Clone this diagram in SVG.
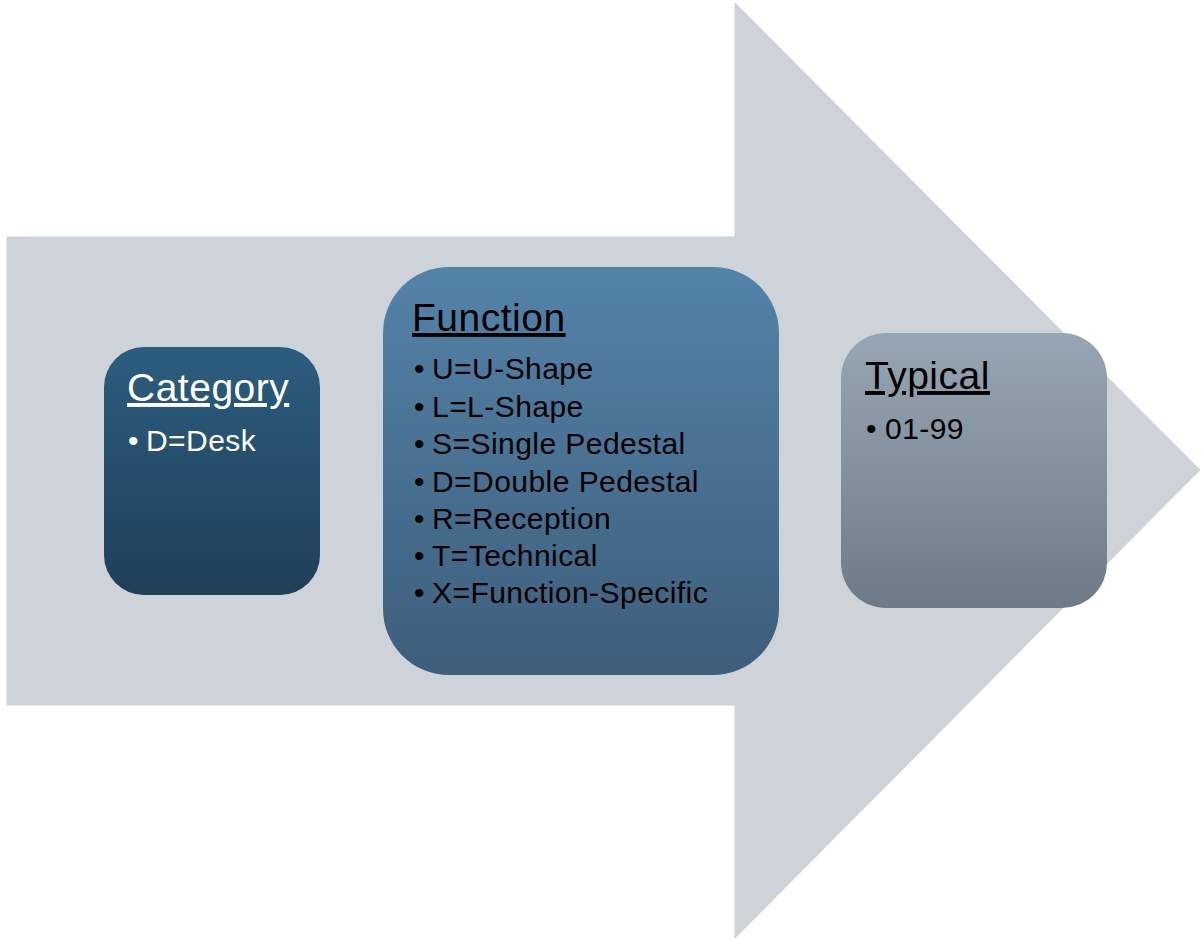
<svg xmlns="http://www.w3.org/2000/svg" width="1201" height="939" viewBox="0 0 1201 939">
  <style>
    .title { font-family: "Liberation Sans", Arial, sans-serif; font-size: 39px; letter-spacing: 0.5px; text-decoration: underline; }
    .item { font-family: "Liberation Sans", Arial, sans-serif; font-size: 30px; letter-spacing: 0.45px; }
    .light { fill: #ffffff; }
    .dark { fill: #000000; }
  </style>
  <defs>
    <linearGradient id="gradCategory" x1="0" y1="0" x2="0" y2="1">
      <stop offset="0" stop-color="#2c5d7f"/>
      <stop offset="1" stop-color="#203f59"/>
    </linearGradient>
    <linearGradient id="gradFunction" x1="0" y1="0" x2="0" y2="1">
      <stop offset="0" stop-color="#5383a8"/>
      <stop offset="1" stop-color="#3e5e7b"/>
    </linearGradient>
    <linearGradient id="gradTypical" x1="0" y1="0" x2="0" y2="1">
      <stop offset="0" stop-color="#97a6b4"/>
      <stop offset="1" stop-color="#6f7a87"/>
    </linearGradient>
  </defs>

  <rect width="1201" height="939" fill="#ffffff"/>

  <!-- background block arrow -->
  <g id="arrow">
    <polygon points="7,237 735,237 735,3 1200,470 735,938 735,705 7,705" fill="#cdd3d8" stroke="#cdd3d8" stroke-width="1" stroke-linejoin="round"/>
  </g>

  <g id="connectors"></g>

  <g id="category">
    <rect x="104" y="347" width="216" height="248" rx="40" ry="40" fill="url(#gradCategory)"/>
    <text class="title light" x="127" y="401">Category</text>
    <text class="item light" x="128" y="451">•</text>
    <text class="item light" x="146" y="451">D=Desk</text>
  </g>

  <g id="function">
    <rect x="383" y="267" width="396" height="408" rx="66" ry="66" fill="url(#gradFunction)"/>
    <text class="title dark" x="412" y="331">Function</text>
    <g class="item dark">
      <text x="414" y="379">•</text><text x="432" y="379">U=U-Shape</text>
      <text x="414" y="416.5">•</text><text x="432" y="416.5">L=L-Shape</text>
      <text x="414" y="454">•</text><text x="432" y="454">S=Single Pedestal</text>
      <text x="414" y="491.5">•</text><text x="432" y="491.5">D=Double Pedestal</text>
      <text x="414" y="529">•</text><text x="432" y="529">R=Reception</text>
      <text x="414" y="566">•</text><text x="432" y="566">T=Technical</text>
      <text x="414" y="603">•</text><text x="432" y="603">X=Function-Specific</text>
    </g>
  </g>

  <g id="typical">
    <rect x="841" y="333" width="266" height="275" rx="45" ry="45" fill="url(#gradTypical)"/>
    <text class="title dark" x="865" y="389">Typical</text>
    <text class="item dark" x="866" y="439">•</text>
    <text class="item dark" x="885" y="439">01-99</text>
  </g>
</svg>
